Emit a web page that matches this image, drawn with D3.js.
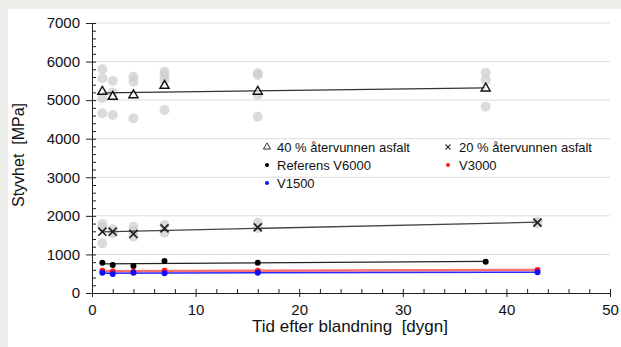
<!DOCTYPE html>
<html>
<head>
<meta charset="utf-8">
<script src="https://cdn.jsdelivr.net/npm/d3@7"></script>
<style>
  html, body { margin: 0; padding: 0; background: #eeeeea; }
  svg { display: block; font-family: "Liberation Sans", Arial, sans-serif; }
</style>
</head>
<body>
<svg id="chart" width="621" height="347"></svg>
<script>
// ---- Data ----
const days40 = [1, 2, 4, 7, 16, 38];
const mean40 = [5220, 5090, 5130, 5375, 5220, 5307];
const days20 = [1, 2, 4, 7, 16, 43];
const mean20 = [1589, 1589, 1530, 1677, 1703, 1823];
const daysRef = [1, 2, 4, 7, 16, 38];
const refV6000 = [786, 726, 700, 830, 786, 811];
const daysV3000 = [1, 2, 4, 7, 16, 43];
const v3000 = [578, 560, 552, 578, 578, 596];
const daysV1500 = [1, 2, 4, 7, 16, 43];
const v1500 = [526, 493, 526, 511, 526, 537];

// individual measurements (grey circles)
const indivDays40 = [1, 1, 1, 1, 2, 2, 2, 4, 4, 4, 7, 7, 7, 7, 16, 16, 16, 16, 38, 38, 38];
const indivVals40 = [5800, 5566, 5050, 4659, 5497, 5200, 4615, 5608, 5478, 4529, 5738, 5652, 5522, 4745, 5696, 5652, 5134, 4571, 5712, 5522, 4830];
const indivDays20 = [1, 1, 1, 2, 2, 4, 4, 4, 7, 7, 16, 16, 43, 43];
const indivVals20 = [1789, 1703, 1289, 1652, 1548, 1719, 1600, 1460, 1763, 1563, 1823, 1677, 1850, 1800];

const xTicks = [0, 10, 20, 30, 40, 50];
const yTicks = [0, 1000, 2000, 3000, 4000, 5000, 6000, 7000];
const legendLabels = ["40 % återvunnen asfalt", "20 % återvunnen asfalt", "Referens V6000", "V3000", "V1500"];
const xTitle = "Tid efter blandning  [dygn]";
const yTitle = "Styvhet  [MPa]";

// ---- Setup ----
const svg = d3.select("#chart");
svg.append("rect").attr("x", 0).attr("y", 0).attr("width", 621).attr("height", 347).attr("fill", "#eeeeea");
svg.append("rect").attr("x", 8).attr("y", 9).attr("width", 613).attr("height", 338).attr("fill", "#ffffff");

const x = d3.scaleLinear().domain([0, 50]).range([92, 610]);
const y = d3.scaleLinear().domain([0, 7000]).range([293, 23]);

// grid lines
svg.append("g").selectAll("line").data(yTicks.filter(d => d > 0)).join("line")
  .attr("x1", x(0)).attr("x2", x(50))
  .attr("y1", d => y(d)).attr("y2", d => y(d))
  .attr("stroke", "#dedede").attr("stroke-width", 1);

// ---- Axes ----
const minorX = d3.range(0, 50.01, 2).filter(d => d % 10 !== 0);
const minorY = d3.range(0, 7000.01, 200).filter(d => d % 1000 !== 0);

function styleAxis(g) {
  g.select(".domain").attr("stroke", "#222").attr("stroke-width", 1);
  g.selectAll(".tick line").attr("stroke", "#222").attr("stroke-width", 1);
  g.selectAll(".tick text").attr("fill", "#111").style("font-size", "15px")
    .style("font-family", "'Liberation Sans', Arial, sans-serif");
}

// X axis: major out + in, minor in
svg.append("g").attr("transform", `translate(0,${y(0)})`)
  .call(d3.axisBottom(x).tickValues(xTicks).tickSize(4).tickSizeOuter(0).tickPadding(7).tickFormat(d3.format("d")))
  .call(styleAxis);
svg.append("g").attr("transform", `translate(0,${y(0)})`)
  .call(d3.axisTop(x).tickValues(xTicks).tickSize(4).tickSizeOuter(0).tickFormat(""))
  .call(styleAxis);
svg.append("g").attr("transform", `translate(0,${y(0)})`)
  .call(d3.axisTop(x).tickValues(minorX).tickSize(4).tickSizeOuter(0).tickFormat(""))
  .call(styleAxis).call(g => g.select(".domain").remove());

// Y axis
svg.append("g").attr("transform", `translate(${x(0)},0)`)
  .call(d3.axisLeft(y).tickValues(yTicks).tickSize(6).tickSizeOuter(0).tickPadding(6).tickFormat(d3.format("d")))
  .call(styleAxis);
svg.append("g").attr("transform", `translate(${x(0)},0)`)
  .call(d3.axisRight(y).tickValues(yTicks).tickSize(4).tickSizeOuter(0).tickFormat(""))
  .call(styleAxis);
svg.append("g").attr("transform", `translate(${x(0)},0)`)
  .call(d3.axisRight(y).tickValues(minorY).tickSize(4).tickSizeOuter(0).tickFormat(""))
  .call(styleAxis).call(g => g.select(".domain").remove());

// axis titles
svg.append("text").attr("x", 350).attr("y", 332)
  .attr("text-anchor", "middle").style("font-size", "17px").attr("fill", "#111")
  .style("white-space", "pre").text(xTitle);
svg.append("text").attr("transform", `translate(24,155) rotate(-90)`)
  .attr("text-anchor", "middle").style("font-size", "16px").attr("fill", "#111")
  .style("white-space", "pre").text(yTitle);

// ---- Marks ----
const line = d3.line().x(d => x(d[0])).y(d => y(d[1]));
function fit(xs, ys) {
  const mx = d3.mean(xs), my = d3.mean(ys);
  let sxy = 0, sxx = 0;
  xs.forEach((v, i) => { sxy += (v - mx) * (ys[i] - my); sxx += (v - mx) * (v - mx); });
  const b = sxy / sxx, a = my - b * mx;
  const x0 = d3.min(xs), x1 = d3.max(xs);
  return [[x0, a + b * x0], [x1, a + b * x1]];
}

// grey individual circles
svg.append("g").selectAll("circle").data(indivDays40.map((d, i) => [d, indivVals40[i]])).join("circle")
  .attr("cx", d => x(d[0])).attr("cy", d => y(d[1])).attr("r", 5)
  .attr("fill", "#cfcfcf").attr("fill-opacity", 0.75);
svg.append("g").selectAll("circle").data(indivDays20.map((d, i) => [d, indivVals20[i]])).join("circle")
  .attr("cx", d => x(d[0])).attr("cy", d => y(d[1])).attr("r", 5)
  .attr("fill", "#cfcfcf").attr("fill-opacity", 0.75);

// trend lines
svg.append("path").attr("d", line(fit(days40, mean40))).attr("stroke", "#333").attr("stroke-width", 1.2).attr("fill", "none");
svg.append("path").attr("d", line(fit(days20, mean20))).attr("stroke", "#444").attr("stroke-width", 1.3).attr("fill", "none");
svg.append("path").attr("d", line(fit(daysRef, refV6000))).attr("stroke", "#222").attr("stroke-width", 1.2).attr("fill", "none");
svg.append("path").attr("d", line(fit(daysV3000, v3000))).attr("stroke", "#ff7070").attr("stroke-width", 2.5).attr("fill", "none");
svg.append("path").attr("d", line(fit(daysV1500, v1500))).attr("stroke", "#2a2aff").attr("stroke-width", 1.5).attr("fill", "none");

// triangles
const tri = d3.symbol().type(d3.symbolTriangle).size(36);
svg.append("g").selectAll("path").data(days40.map((d, i) => [d, mean40[i]])).join("path")
  .attr("d", tri).attr("transform", d => `translate(${x(d[0])},${y(d[1])})`)
  .attr("fill", "#fff").attr("fill-opacity", 0.6).attr("stroke", "#111").attr("stroke-width", 1.4);

// crosses
const cross = d3.symbol().type(d3.symbolX).size(44);
svg.append("g").selectAll("path").data(days20.map((d, i) => [d, mean20[i]])).join("path")
  .attr("d", cross).attr("transform", d => `translate(${x(d[0])},${y(d[1])})`)
  .attr("fill", "none").attr("stroke", "#222").attr("stroke-width", 1.7);

// dots
function dots(xs, ys, color) {
  svg.append("g").selectAll("circle").data(xs.map((d, i) => [d, ys[i]])).join("circle")
    .attr("cx", d => x(d[0])).attr("cy", d => y(d[1])).attr("r", 3).attr("fill", color);
}
dots(daysRef, refV6000, "#000");
dots(daysV3000, v3000, "#ff1a1a");
dots(daysV1500, v1500, "#1010ff");

// ---- Legend ----
const leg = svg.append("g").style("font-size", "13px").attr("fill", "#111");
const legItems = [
  { label: legendLabels[0], sx: 267, tx: 277, cy: 147, kind: "tri" },
  { label: legendLabels[1], sx: 448, tx: 459, cy: 147, kind: "x" },
  { label: legendLabels[2], sx: 267, tx: 277, cy: 165, kind: "dot", color: "#000" },
  { label: legendLabels[3], sx: 448, tx: 459, cy: 165, kind: "dot", color: "#ff1a1a" },
  { label: legendLabels[4], sx: 267, tx: 277, cy: 183, kind: "dot", color: "#1010ff" }
];
legItems.forEach(it => {
  if (it.kind === "tri") {
    leg.append("path").attr("d", d3.symbol().type(d3.symbolTriangle).size(22)())
      .attr("transform", `translate(${it.sx},${it.cy})`).attr("fill", "none").attr("stroke", "#333").attr("stroke-width", 1);
  } else if (it.kind === "x") {
    leg.append("path").attr("d", d3.symbol().type(d3.symbolX).size(18)())
      .attr("transform", `translate(${it.sx},${it.cy})`).attr("fill", "none").attr("stroke", "#333").attr("stroke-width", 1.1);
  } else {
    leg.append("circle").attr("cx", it.sx).attr("cy", it.cy).attr("r", 2).attr("fill", it.color);
  }
  leg.append("text").attr("x", it.tx).attr("y", it.cy + 4.5).text(it.label);
});
</script>
</body>
</html>
